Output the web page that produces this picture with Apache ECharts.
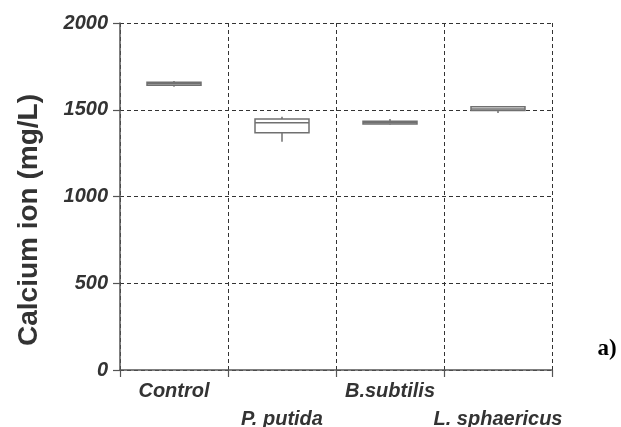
<!DOCTYPE html>
<html>
<head>
<meta charset="utf-8">
<script src="https://cdn.jsdelivr.net/npm/echarts@6/dist/echarts.min.js"></script>
<style>html,body{margin:0;padding:0;background:#fff;}#c{width:621px;height:427px;}</style>
</head>
<body>
<div id="c"></div>
<script>
const categories = ['Control', 'P. putida', 'B.subtilis', 'L. sphaericus'];
// box statistics per category
const minValues    = [1633, 1316, 1415, 1481];
const q1Values     = [1641, 1368, 1418, 1495];
const medianValues = [1650, 1425, 1425, 1505];
const q3Values     = [1658, 1447, 1433, 1518];
const maxValues    = [1666, 1460, 1447, 1520];
const yTicks = [0, 500, 1000, 1500, 2000];

const boxData = categories.map((c, i) => [i, minValues[i], q1Values[i], medianValues[i], q3Values[i], maxValues[i]]);

const chart = echarts.init(document.getElementById('c'));
chart.setOption({
  animation: false,
  grid: { left: 120, right: 69, top: 23, bottom: 57, containLabel: false, outerBoundsMode: 'none' },
  xAxis: {
    type: 'category',
    data: categories,
    boundaryGap: true,
    axisLine: { lineStyle: { color: '#555', width: 1.5 } },
    axisTick: { show: true, length: 7, lineStyle: { color: '#555', width: 1.2 } },
    splitLine: { show: true, lineStyle: { type: [4, 3], color: '#333', width: 1 } },
    axisLabel: {
      interval: 0,
      margin: 7,
      color: '#333',
      fontFamily: 'Liberation Sans, Arial, sans-serif',
      fontWeight: 'bold',
      fontStyle: 'italic',
      fontSize: 20,
      lineHeight: 28,
      formatter: function (v, i) { return i % 2 === 1 ? '\n' + v : v; }
    }
  },
  yAxis: {
    type: 'value',
    min: yTicks[0],
    max: yTicks[yTicks.length - 1],
    interval: 500,
    axisLine: { show: true, lineStyle: { color: '#555', width: 1.5 } },
    axisTick: { show: true, length: 7, lineStyle: { color: '#555', width: 1.2 } },
    splitLine: { show: true, lineStyle: { type: [4, 3], color: '#333', width: 1 } },
    axisLabel: {
      margin: 12,
      color: '#333',
      fontFamily: 'Liberation Sans, Arial, sans-serif',
      fontWeight: 'bold',
      fontStyle: 'italic',
      fontSize: 20,
      formatter: function (v) { return String(v); }
    }
  },
  graphic: [
    {
      type: 'text',
      x: 29, y: 220,
      rotation: Math.PI / 2,
      style: {
        text: 'Calcium ion (mg/L)',
        fill: '#333',
        font: 'bold 28px "Liberation Sans", Arial, sans-serif',
        align: 'center',
        verticalAlign: 'middle'
      }
    },
    {
      type: 'text',
      x: 607, y: 349,
      style: {
        text: 'a)',
        fill: '#000',
        font: 'bold 23px "Liberation Serif", "Times New Roman", serif',
        align: 'center',
        verticalAlign: 'middle'
      }
    }
  ],
  series: [{
    type: 'custom',
    data: boxData,
    z: 5,
    renderItem: function (params, api) {
      const idx = api.value(0);
      const pMin = api.coord([idx, api.value(1)]);
      const pQ1 = api.coord([idx, api.value(2)]);
      const pMed = api.coord([idx, api.value(3)]);
      const pQ3 = api.coord([idx, api.value(4)]);
      const pMax = api.coord([idx, api.value(5)]);
      const w = api.size([1, 0])[0] * 0.5;
      const x0 = pQ1[0] - w / 2;
      const st = { stroke: '#707070', lineWidth: 1.5, fill: null };
      return {
        type: 'group',
        children: [
          { type: 'line', shape: { x1: pMax[0], y1: pMax[1], x2: pQ3[0], y2: pQ3[1] }, style: st },
          { type: 'line', shape: { x1: pQ1[0], y1: pQ1[1], x2: pMin[0], y2: pMin[1] }, style: st },
          { type: 'rect', shape: { x: x0, y: pQ3[1], width: w, height: pQ1[1] - pQ3[1] },
            style: { stroke: '#707070', lineWidth: 1.5, fill: '#fff' } },
          { type: 'line', shape: { x1: x0, y1: pMed[1], x2: x0 + w, y2: pMed[1] }, style: st }
        ]
      };
    }
  }]
});
</script>
</body>
</html>
